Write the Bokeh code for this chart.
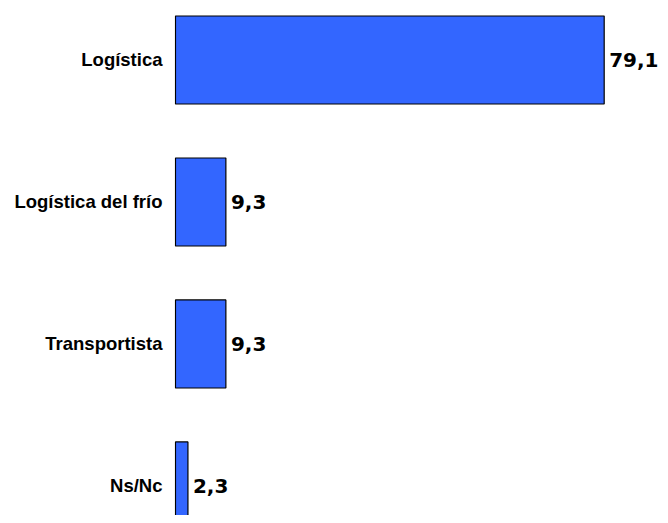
from bokeh.plotting import figure
from bokeh.models import ColumnDataSource, Range1d, FixedTicker
from bokeh.core.properties import value
from bokeh.embed import file_html
from bokeh.resources import INLINE

categories = ["Logística", "Logística del frío", "Transportista", "Ns/Nc"]
values = [79.1, 9.3, 9.3, 2.3]
value_labels = ["79,1", "9,3", "9,3", "2,3"]

n = len(categories)
ypos = [n - 1 - i for i in range(n)]

src = ColumnDataSource(dict(cat=categories, val=values, lab=value_labels, y=ypos))

p = figure(width=660, height=515, output_backend="svg", toolbar_location=None,
           x_range=Range1d(-0.18, 89.49), y_range=Range1d(-0.2078, 3.419),
           min_border_left=174, min_border_right=0, min_border_top=0, min_border_bottom=0)

p.hbar(y="y", right="val", left=0, height=0.62, source=src,
       fill_color="#3366FF", line_color="#000000", line_width=1.2)

p.text(x="val", y="y", text="lab", source=src, x_offset=5,
       text_align="left", text_baseline="middle",
       text_font=value("DejaVu Sans"), text_font_style="bold",
       text_font_size="20px", text_color="#000000")

p.xaxis.visible = False
p.yaxis.ticker = FixedTicker(ticks=ypos)
p.yaxis.major_label_overrides = {float(y): c for y, c in zip(ypos, categories)}
p.yaxis.axis_line_color = None
p.yaxis.major_tick_line_color = None
p.yaxis.minor_tick_line_color = None
p.yaxis.major_tick_in = 0
p.yaxis.major_tick_out = 0
p.yaxis.major_label_standoff = 12
p.yaxis.major_label_text_font = "Liberation Sans"
p.yaxis.major_label_text_font_style = "bold"
p.yaxis.major_label_text_font_size = "18.5px"
p.yaxis.major_label_text_color = "#000000"
p.xgrid.visible = False
p.ygrid.visible = False
p.outline_line_color = None
p.background_fill_color = "white"
p.border_fill_color = "white"

open("out.html", "w").write(file_html(p, INLINE))
